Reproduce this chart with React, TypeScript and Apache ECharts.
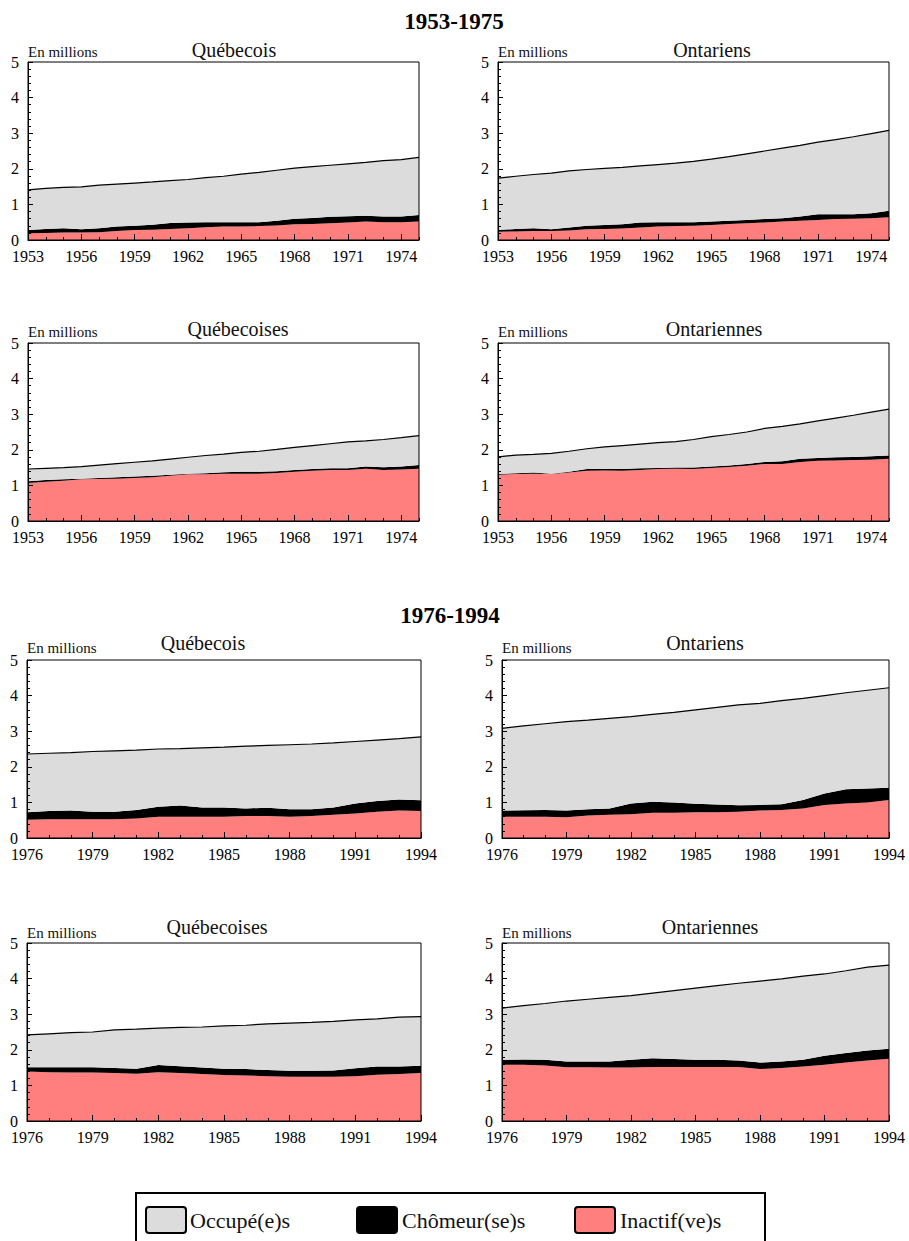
import React, { useEffect, useRef } from "react";
import * as echarts from "echarts";

// ---------- Data ----------
const START_A = 1953;
const END_A = 1975;
const START_B = 1976;
const END_B = 1994;

const SERIES_NAMES = ["Inactif(ve)s", "Chômeur(se)s", "Occupé(e)s"];
const SERIES_COLORS = ["#ff7f7f", "#000000", "#dcdcdc"];
const PERIOD_TITLES = ["1953-1975", "1976-1994"];
const Y_UNIT = "En millions";

// 1953-1975 (values in millions, stacked: inactif, chômeur, occupé)
const qcMenA_inactif = [0.19, 0.20, 0.21, 0.21, 0.22, 0.25, 0.28, 0.29, 0.31, 0.33, 0.36, 0.38, 0.38, 0.39, 0.41, 0.44, 0.45, 0.47, 0.49, 0.52, 0.50, 0.50, 0.52];
const qcMenA_chomeur = [0.09, 0.11, 0.12, 0.09, 0.11, 0.13, 0.12, 0.14, 0.17, 0.16, 0.14, 0.12, 0.12, 0.11, 0.13, 0.16, 0.17, 0.18, 0.18, 0.16, 0.16, 0.16, 0.18];
const qcMenA_occupe = [1.13, 1.14, 1.15, 1.19, 1.21, 1.19, 1.20, 1.20, 1.19, 1.21, 1.25, 1.29, 1.35, 1.40, 1.42, 1.42, 1.44, 1.45, 1.47, 1.50, 1.57, 1.60, 1.62];

const onMenA_inactif = [0.23, 0.24, 0.25, 0.25, 0.27, 0.30, 0.31, 0.32, 0.35, 0.38, 0.39, 0.40, 0.42, 0.45, 0.47, 0.49, 0.52, 0.54, 0.56, 0.59, 0.60, 0.61, 0.64];
const onMenA_chomeur = [0.05, 0.07, 0.08, 0.05, 0.08, 0.10, 0.11, 0.12, 0.14, 0.12, 0.11, 0.10, 0.10, 0.09, 0.09, 0.10, 0.09, 0.12, 0.16, 0.13, 0.12, 0.14, 0.18];
const onMenA_occupe = [1.46, 1.48, 1.51, 1.58, 1.59, 1.58, 1.59, 1.60, 1.59, 1.62, 1.66, 1.71, 1.75, 1.80, 1.86, 1.91, 1.97, 2.00, 2.03, 2.10, 2.18, 2.24, 2.26];

const qcWomA_inactif = [1.07, 1.10, 1.13, 1.17, 1.18, 1.19, 1.21, 1.23, 1.27, 1.31, 1.31, 1.33, 1.33, 1.33, 1.35, 1.38, 1.41, 1.43, 1.43, 1.47, 1.43, 1.45, 1.47];
const qcWomA_chomeur = [0.05, 0.05, 0.04, 0.02, 0.03, 0.04, 0.04, 0.04, 0.03, 0.02, 0.03, 0.04, 0.05, 0.05, 0.05, 0.05, 0.05, 0.05, 0.05, 0.06, 0.08, 0.08, 0.10];
const qcWomA_occupe = [0.34, 0.33, 0.33, 0.34, 0.36, 0.38, 0.40, 0.42, 0.44, 0.46, 0.50, 0.51, 0.55, 0.58, 0.61, 0.64, 0.66, 0.69, 0.74, 0.72, 0.78, 0.81, 0.83];

const onWomA_inactif = [1.30, 1.32, 1.33, 1.32, 1.36, 1.41, 1.42, 1.41, 1.43, 1.46, 1.47, 1.46, 1.49, 1.52, 1.55, 1.60, 1.60, 1.66, 1.69, 1.70, 1.71, 1.72, 1.75];
const onWomA_chomeur = [0.02, 0.02, 0.03, 0.01, 0.02, 0.05, 0.04, 0.05, 0.05, 0.03, 0.03, 0.04, 0.04, 0.04, 0.05, 0.06, 0.08, 0.09, 0.08, 0.09, 0.09, 0.10, 0.09];
const onWomA_occupe = [0.48, 0.51, 0.51, 0.57, 0.58, 0.57, 0.62, 0.66, 0.68, 0.71, 0.73, 0.79, 0.84, 0.87, 0.90, 0.94, 0.98, 0.98, 1.04, 1.10, 1.17, 1.24, 1.30];

// 1976-1994
const qcMenB_inactif = [0.51, 0.53, 0.53, 0.53, 0.53, 0.55, 0.60, 0.60, 0.60, 0.60, 0.62, 0.62, 0.60, 0.62, 0.65, 0.69, 0.74, 0.77, 0.76];
const qcMenB_chomeur = [0.21, 0.23, 0.24, 0.21, 0.21, 0.24, 0.28, 0.31, 0.26, 0.26, 0.21, 0.23, 0.21, 0.19, 0.21, 0.28, 0.30, 0.31, 0.30];
const qcMenB_occupe = [1.64, 1.62, 1.63, 1.69, 1.71, 1.68, 1.62, 1.60, 1.67, 1.69, 1.75, 1.75, 1.81, 1.83, 1.81, 1.74, 1.71, 1.71, 1.78];

const onMenB_inactif = [0.60, 0.60, 0.60, 0.58, 0.63, 0.65, 0.67, 0.71, 0.71, 0.72, 0.72, 0.74, 0.77, 0.79, 0.83, 0.93, 0.97, 1.00, 1.07];
const onMenB_chomeur = [0.17, 0.18, 0.19, 0.19, 0.18, 0.18, 0.30, 0.31, 0.29, 0.24, 0.22, 0.18, 0.16, 0.16, 0.24, 0.32, 0.40, 0.39, 0.34];
const onMenB_occupe = [2.31, 2.37, 2.42, 2.50, 2.50, 2.53, 2.44, 2.45, 2.53, 2.64, 2.73, 2.82, 2.85, 2.91, 2.85, 2.75, 2.71, 2.76, 2.81];

const qcWomB_inactif = [1.39, 1.37, 1.36, 1.36, 1.35, 1.33, 1.37, 1.35, 1.32, 1.29, 1.28, 1.26, 1.24, 1.24, 1.24, 1.26, 1.30, 1.32, 1.35];
const qcWomB_chomeur = [0.12, 0.14, 0.15, 0.15, 0.14, 0.14, 0.20, 0.19, 0.18, 0.18, 0.18, 0.17, 0.17, 0.17, 0.18, 0.22, 0.23, 0.21, 0.20];
const qcWomB_occupe = [0.91, 0.94, 0.97, 0.99, 1.07, 1.11, 1.04, 1.09, 1.14, 1.20, 1.23, 1.30, 1.34, 1.36, 1.38, 1.36, 1.34, 1.39, 1.38];

const onWomB_inactif = [1.58, 1.58, 1.56, 1.51, 1.51, 1.50, 1.50, 1.52, 1.52, 1.52, 1.52, 1.52, 1.46, 1.49, 1.53, 1.58, 1.64, 1.70, 1.75];
const onWomB_chomeur = [0.14, 0.15, 0.16, 0.16, 0.16, 0.17, 0.22, 0.24, 0.22, 0.20, 0.20, 0.18, 0.18, 0.18, 0.19, 0.25, 0.27, 0.28, 0.28];
const onWomB_occupe = [1.45, 1.51, 1.58, 1.70, 1.75, 1.80, 1.80, 1.83, 1.92, 2.01, 2.08, 2.17, 2.29, 2.32, 2.35, 2.30, 2.31, 2.34, 2.35];

// ---------- Layout ----------
const FONT = "Liberation Serif";

type Panel = {
  title: string;
  start: number;
  end: number;
  data: number[][];
  box: { left: number; top: number; width: number; height: number };
  titlePos: [number, number];
  unitPos: [number, number];
};

const panels: Panel[] = [
  { title: "Québecois", start: START_A, end: END_A, data: [qcMenA_inactif, qcMenA_chomeur, qcMenA_occupe], box: { left: 28, top: 62, width: 391, height: 178 }, titlePos: [234, 50], unitPos: [28, 52] },
  { title: "Ontariens", start: START_A, end: END_A, data: [onMenA_inactif, onMenA_chomeur, onMenA_occupe], box: { left: 498, top: 62, width: 391, height: 178 }, titlePos: [712, 50], unitPos: [498, 52] },
  { title: "Québecoises", start: START_A, end: END_A, data: [qcWomA_inactif, qcWomA_chomeur, qcWomA_occupe], box: { left: 28, top: 343, width: 391, height: 178 }, titlePos: [238, 329], unitPos: [28, 332] },
  { title: "Ontariennes", start: START_A, end: END_A, data: [onWomA_inactif, onWomA_chomeur, onWomA_occupe], box: { left: 498, top: 343, width: 391, height: 178 }, titlePos: [714, 329], unitPos: [498, 332] },
  { title: "Québecois", start: START_B, end: END_B, data: [qcMenB_inactif, qcMenB_chomeur, qcMenB_occupe], box: { left: 27, top: 660, width: 394, height: 178 }, titlePos: [203, 643], unitPos: [27, 648] },
  { title: "Ontariens", start: START_B, end: END_B, data: [onMenB_inactif, onMenB_chomeur, onMenB_occupe], box: { left: 502, top: 660, width: 387, height: 178 }, titlePos: [705, 643], unitPos: [502, 648] },
  { title: "Québecoises", start: START_B, end: END_B, data: [qcWomB_inactif, qcWomB_chomeur, qcWomB_occupe], box: { left: 27, top: 943, width: 394, height: 178 }, titlePos: [217, 927], unitPos: [27, 933] },
  { title: "Ontariennes", start: START_B, end: END_B, data: [onWomB_inactif, onWomB_chomeur, onWomB_occupe], box: { left: 502, top: 943, width: 387, height: 178 }, titlePos: [710, 927], unitPos: [502, 933] },
];

function yearList(start: number, end: number): string[] {
  const out: string[] = [];
  for (let y = start; y <= end; y++) out.push(String(y));
  return out;
}

function buildOption() {
  const grid: any[] = [];
  const xAxis: any[] = [];
  const yAxis: any[] = [];
  const series: any[] = [];
  const graphic: any[] = [];

  panels.forEach((p, g) => {
    const years = yearList(p.start, p.end);
    grid.push({
      left: p.box.left,
      top: p.box.top,
      width: p.box.width,
      height: p.box.height,
      show: true,
      z: 10,
      backgroundColor: "transparent",
      borderColor: "#000",
      borderWidth: 1,
    });
    // minor ticks every year
    xAxis.push({
      type: "category",
      gridIndex: g,
      position: "bottom",
      data: years,
      boundaryGap: false,
      z: 10,
      axisLine: { show: true, lineStyle: { color: "#000", width: 1 } },
      axisTick: { show: true, inside: true, length: 3, interval: 0, lineStyle: { color: "#000" } },
      axisLabel: { show: false },
      splitLine: { show: false },
    });
    // major ticks & labels every 3 years
    xAxis.push({
      type: "category",
      gridIndex: g,
      position: "bottom",
      data: years,
      boundaryGap: false,
      z: 10,
      axisLine: { show: false },
      axisTick: { show: true, inside: true, length: 6, interval: 2, lineStyle: { color: "#000" } },
      axisLabel: {
        show: true,
        interval: 2,
        margin: 8,
        color: "#000",
        fontFamily: FONT,
        fontSize: 16,
      },
      splitLine: { show: false },
    });
    yAxis.push({
      type: "value",
      gridIndex: g,
      min: 0,
      max: 5,
      interval: 1,
      z: 10,
      axisLine: { show: true, lineStyle: { color: "#000", width: 1 } },
      axisTick: { show: true, inside: true, length: 5, lineStyle: { color: "#000" } },
      minorTick: { show: true, splitNumber: 5, length: 3, lineStyle: { color: "#000" } },
      axisLabel: { color: "#000", fontFamily: FONT, fontSize: 16, margin: 9 },
      splitLine: { show: false },
    });

    p.data.forEach((vals, s) => {
      series.push({
        name: SERIES_NAMES[s],
        type: "line",
        xAxisIndex: g * 2,
        yAxisIndex: g,
        stack: "stack" + g,
        showSymbol: false,
        symbol: "none",
        silent: true,
        z: 2,
        data: vals,
        lineStyle:
          s === 2
            ? { color: "#000", width: 1.2 }
            : { width: 0, opacity: 0 },
        itemStyle: { color: SERIES_COLORS[s] },
        areaStyle: { color: SERIES_COLORS[s], opacity: 1 },
      });
    });

    graphic.push({
      type: "text",
      x: p.titlePos[0],
      y: p.titlePos[1],
      style: {
        text: p.title,
        fill: "#111",
        fontFamily: FONT,
        fontSize: 20,
        textAlign: "center",
        textVerticalAlign: "middle",
      },
    });
    graphic.push({
      type: "text",
      x: p.unitPos[0],
      y: p.unitPos[1],
      style: {
        text: Y_UNIT,
        fill: "#111",
        fontFamily: FONT,
        fontSize: 15,
        textAlign: "left",
        textVerticalAlign: "middle",
      },
    });
  });

  // Period titles
  graphic.push({
    type: "text",
    x: 454,
    y: 21,
    style: { text: PERIOD_TITLES[0], fill: "#000", fontFamily: FONT, fontSize: 23, fontWeight: "bold", textAlign: "center", textVerticalAlign: "middle" },
  });
  graphic.push({
    type: "text",
    x: 450,
    y: 615,
    style: { text: PERIOD_TITLES[1], fill: "#000", fontFamily: FONT, fontSize: 23, fontWeight: "bold", textAlign: "center", textVerticalAlign: "middle" },
  });

  // Legend box
  graphic.push({
    type: "rect",
    shape: { x: 136, y: 1193, width: 629, height: 70 },
    style: { fill: "none", stroke: "#000", lineWidth: 2 },
  });
  const legendItems = [
    { sw: 146, tx: 190, s: 2 },
    { sw: 357, tx: 402, s: 1 },
    { sw: 575, tx: 620, s: 0 },
  ];
  legendItems.forEach((it) => {
    graphic.push({
      type: "rect",
      shape: { x: it.sw, y: 1207, width: 40, height: 26, r: 3 },
      style: { fill: SERIES_COLORS[it.s], stroke: "#000", lineWidth: 2 },
    });
    graphic.push({
      type: "text",
      x: it.tx,
      y: 1220,
      style: { text: SERIES_NAMES[it.s], fill: "#111", fontFamily: FONT, fontSize: 22, textAlign: "left", textVerticalAlign: "middle" },
    });
  });

  return {
    animation: false,
    backgroundColor: "#fff",
    grid,
    xAxis,
    yAxis,
    series,
    graphic,
  };
}

export default function App() {
  const ref = useRef<HTMLDivElement>(null);
  useEffect(() => {
    if (!ref.current) return;
    const chart = echarts.init(ref.current, undefined, { renderer: "svg" });
    chart.setOption(buildOption() as any);
    return () => chart.dispose();
  }, []);
  return (
    <div
      ref={ref}
      style={{ position: "absolute", left: 0, top: 0, width: 909, height: 1241, background: "#fff" }}
    />
  );
}
